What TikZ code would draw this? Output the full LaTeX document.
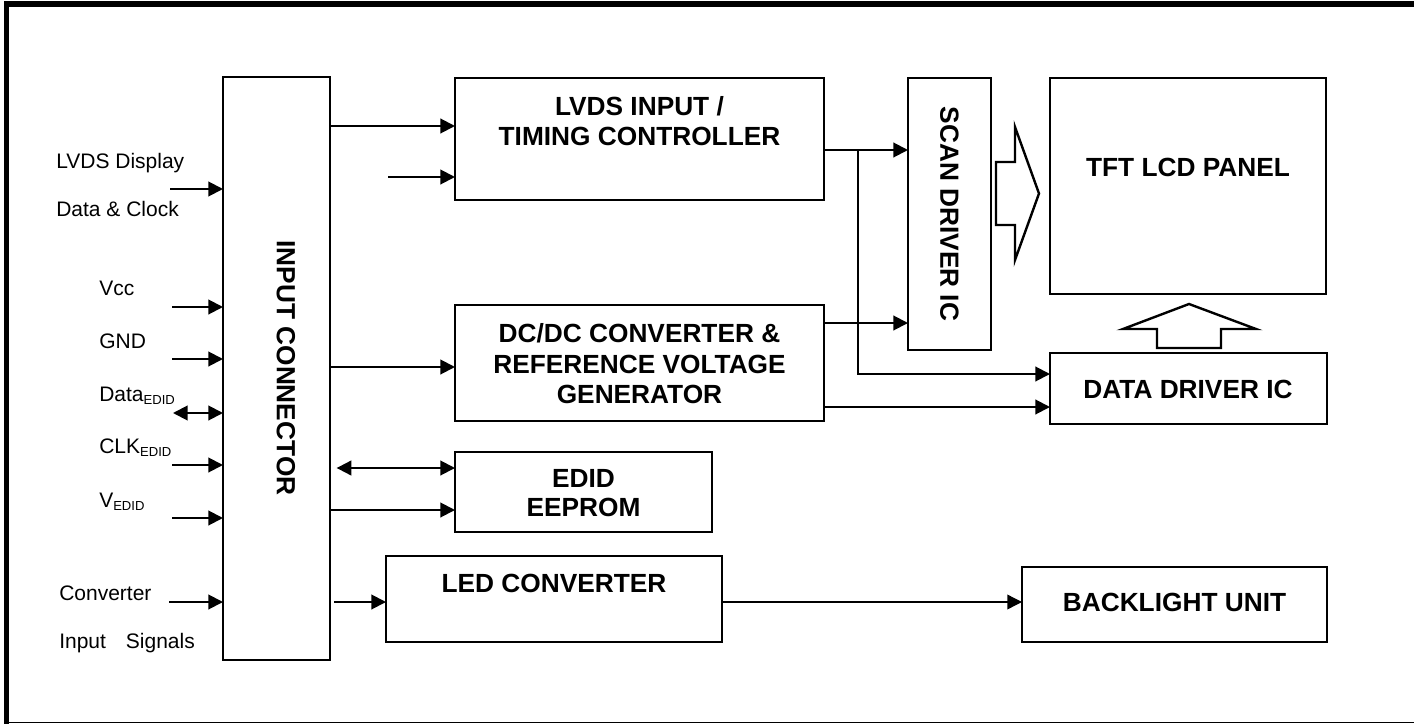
\documentclass[tikz,border=0pt]{standalone}
\usepackage{fontspec}
\setmainfont{Liberation Sans}
\usetikzlibrary{arrows.meta,fit}
\newcommand\sbEDID{\raisebox{-0.3ex}{\fontsize{9.8}{10}\selectfont EDID}}
\begin{document}
\begin{tikzpicture}[x=0.75pt,y=-0.75pt,
  box/.style={draw, line width=2pt, inner sep=0pt, outer sep=0pt},
  btxt/.style={font=\fontsize{19.7}{22.9}\selectfont\bfseries, align=center, inner sep=0pt},
  ltxt/.style={font=\fontsize{15.75}{18}\selectfont, anchor=base west, inner sep=0pt},
  conn/.style={line width=1.5pt},
  arr/.style={conn, -{Triangle[length=11pt,width=11pt]}},
  darr/.style={conn, {Triangle[length=11pt,width=11pt]}-{Triangle[length=11pt,width=11pt]}},
  hollow/.style={draw, line width=1.8pt, line join=miter}]
\useasboundingbox (0,0) rectangle (1414,724);
% frame
\draw[line width=4.5pt] (4,4) -- (1414,4);
\draw[line width=3.6pt] (6.7,2) -- (6.7,724);
\draw[line width=1pt] (6.7,722.7) -- (1414,722.7);

% boxes
\node[box, fit={(223,77) (330,660)}] (inconn) {};
\node[box, fit={(455,78) (824,200)}] (lvds) {};
\node[box, fit={(455,305) (824,421)}] (dcdc) {};
\node[box, fit={(455,452) (712,532)}] (edid) {};
\node[box, fit={(386,556) (722,642)}] (led) {};
\node[box, fit={(908,78) (991,350)}] (scan) {};
\node[box, fit={(1050,78) (1326,294)}] (tft) {};
\node[box, fit={(1050,353) (1327,424)}] (data) {};
\node[box, fit={(1022,567) (1327,642)}] (blu) {};

% box texts
\node[btxt, rotate=-90] (tinconn) at (286,368) {INPUT CONNECTOR};
\node[btxt] (tlvds) at (639.5,121) {LVDS INPUT /\\TIMING CONTROLLER};
\node[btxt] (tdcdc) at (639.5,364) {DC/DC CONVERTER \&\\REFERENCE VOLTAGE\\GENERATOR};
\node[btxt, font=\fontsize{19.7}{21.8}\selectfont\bfseries] (tedid) at (583.5,493.5) {EDID\\EEPROM};
\node[btxt] (tled) at (554,583) {LED CONVERTER};
\node[btxt, rotate=-90] (tscan) at (949.5,214) {SCAN DRIVER IC};
\node[btxt] (ttft) at (1188,167) {TFT LCD PANEL};
\node[btxt] (tdata) at (1188,389) {DATA DRIVER IC};
\node[btxt] (tblu) at (1174.5,602) {BACKLIGHT UNIT};

% left labels
\node[ltxt] (l1) at (56,168) {LVDS Display};
\node[ltxt] (l2) at (56,216) {Data \& Clock};
\node[ltxt] (l3) at (99,295) {Vcc};
\node[ltxt] (l4) at (99,348) {GND};
\node[ltxt] (l5) at (99,401) {Data\sbEDID};
\node[ltxt] (l6) at (99,453) {CLK\sbEDID};
\node[ltxt] (l7) at (99,507) {V\sbEDID};
\node[ltxt] (l8) at (59,600) {Converter};
\node[ltxt] (l9) at (59,648) {Input\hspace{15pt}Signals};

% input arrows
\coordinate (c1) at (170,189);
\coordinate (c2) at (172,307);
\coordinate (c3) at (172,359);
\coordinate (c4) at (173,413);
\coordinate (c5) at (172,465);
\coordinate (c6) at (172,518);
\coordinate (c7) at (169,602);
\draw[arr] (c1) -- (inconn.west |- c1);
\draw[arr] (c2) -- (inconn.west |- c2);
\draw[arr] (c3) -- (inconn.west |- c3);
\draw[darr] (c4) -- (inconn.west |- c4);
\draw[arr] (c5) -- (inconn.west |- c5);
\draw[arr] (c6) -- (inconn.west |- c6);
\draw[arr] (c7) -- (inconn.west |- c7);

% internal connectors
\draw[arr] (inconn.east |- 0,126) -- (lvds.west |- 0,126);
\coordinate (c8) at (388,177);
\draw[arr] (c8) -- (lvds.west |- c8);
\draw[arr] (inconn.east |- 0,367) -- (dcdc.west |- 0,367);
\draw[darr, shorten <=5pt] (inconn.east |- 0,468) -- (edid.west |- 0,468);
\draw[arr] (inconn.east |- 0,510) -- (edid.west |- 0,510);
\draw[arr, shorten <=3pt] (inconn.east |- 0,602) -- (led.west |- 0,602);
\draw[arr, line width=1pt] (led.east |- 0,602) -- (blu.west |- 0,602);

\draw[arr] (lvds.east |- 0,150) -- (scan.west |- 0,150);
\coordinate (j) at (858,150);
\draw[arr] (j) |- (data.west |- 0,374);
\draw[arr] (dcdc.east |- 0,323) -- (scan.west |- 0,323);
\draw[arr] (dcdc.east |- 0,407) -- (data.west |- 0,407);

% hollow arrows
\draw[hollow] (996,162) -- (1015,162) -- (1015,127) -- (1039,193.5) -- (1015,260) -- (1015,225) -- (996,225) -- cycle;
\draw[hollow] (1157,348) -- (1157,329) -- (1123,329) -- (1189,304) -- (1256,329) -- (1221,329) -- (1221,348) -- cycle;
\end{tikzpicture}
\end{document}
